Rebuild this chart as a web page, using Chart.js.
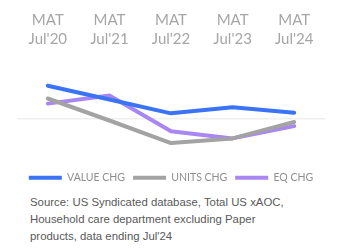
<!DOCTYPE html>
<html>
<head>
<meta charset="utf-8">
<script src="https://cdn.jsdelivr.net/npm/chart.js@4/dist/chart.umd.min.js"></script>
<style>
  html, body { margin: 0; padding: 0; background: #fff; }
  #wrap { position: relative; width: 342px; height: 193px; }
  #src { position: absolute; left: 30px; top: 194px; width: 268px;
         font-family: "Liberation Sans", Arial, sans-serif; font-size: 11.4px;
         line-height: 17px; color: #595959; }
</style>
</head>
<body>
<div id="wrap"><canvas id="c"></canvas></div>
<div id="src">Source: US Syndicated database, Total US xAOC, Household care department excluding Paper products, data ending Jul'24</div>
<script>
const categories = [["MAT", "Jul'20"], ["MAT", "Jul'21"], ["MAT", "Jul'22"], ["MAT", "Jul'23"], ["MAT", "Jul'24"]];
const valueChg = [6.5, 3.8, 1.1, 2.3, 1.2];
const unitsChg = [4.0, -0.3, -4.7, -3.8, -0.6];
const eqChg = [3.0, 4.6, -2.4, -3.8, -1.4];

new Chart(document.getElementById('c'), {
  type: 'line',
  data: {
    labels: categories,
    datasets: [
      { label: 'VALUE CHG', data: valueChg, borderColor: '#3a74f5', backgroundColor: '#3a74f5', borderWidth: 4, pointRadius: 0, tension: 0, borderCapStyle: 'round', borderJoinStyle: 'round' },
      { label: 'UNITS CHG', data: unitsChg, borderColor: '#a3a3a3', backgroundColor: '#a3a3a3', borderWidth: 4, pointRadius: 0, tension: 0, borderCapStyle: 'round', borderJoinStyle: 'round' },
      { label: 'EQ CHG', data: eqChg, borderColor: '#a987f2', backgroundColor: '#a987f2', borderWidth: 4, pointRadius: 0, tension: 0, borderCapStyle: 'round', borderJoinStyle: 'round' }
    ]
  },
  options: {
    responsive: true,
    maintainAspectRatio: false,
    animation: false,
    layout: { padding: 0 },
    plugins: {
      tooltip: { enabled: false },
      legend: {
        position: 'bottom',
        labels: {
          boxWidth: 33,
          boxHeight: 4,
          padding: 8,
          color: '#8f8f8f',
          font: { family: 'Lato', size: 10.5 },
          generateLabels: (chart) => Chart.defaults.plugins.legend.labels.generateLabels(chart).map(l => Object.assign(l, { lineWidth: 0 }))
        }
      }
    },
    scales: {
      x: {
        position: 'top',
        offset: true,
        grid: { display: false, drawTicks: false },
        border: { display: false },
        ticks: { color: '#a6a6a6', font: { family: 'Lato', size: 15, lineHeight: '19px' }, padding: 6, maxRotation: 0 },
        afterFit: (s) => { s.height = 55; }
      },
      y: {
        display: true,
        min: -8.9,
        max: 12.5,
        ticks: { display: false, stepSize: 1 },
        border: { display: false },
        grid: { drawTicks: false, color: (ctx) => ctx.tick && ctx.tick.value === 0 ? '#efefef' : 'rgba(0,0,0,0)', lineWidth: 1.5 },
        afterFit: (s) => { s.width = 17; }
      },
      y2: {
        display: true,
        position: 'right',
        ticks: { display: false },
        grid: { display: false, drawTicks: false },
        border: { display: false },
        afterFit: (s) => { s.width = 17; }
      }
    }
  }
});
</script>
</body>
</html>
